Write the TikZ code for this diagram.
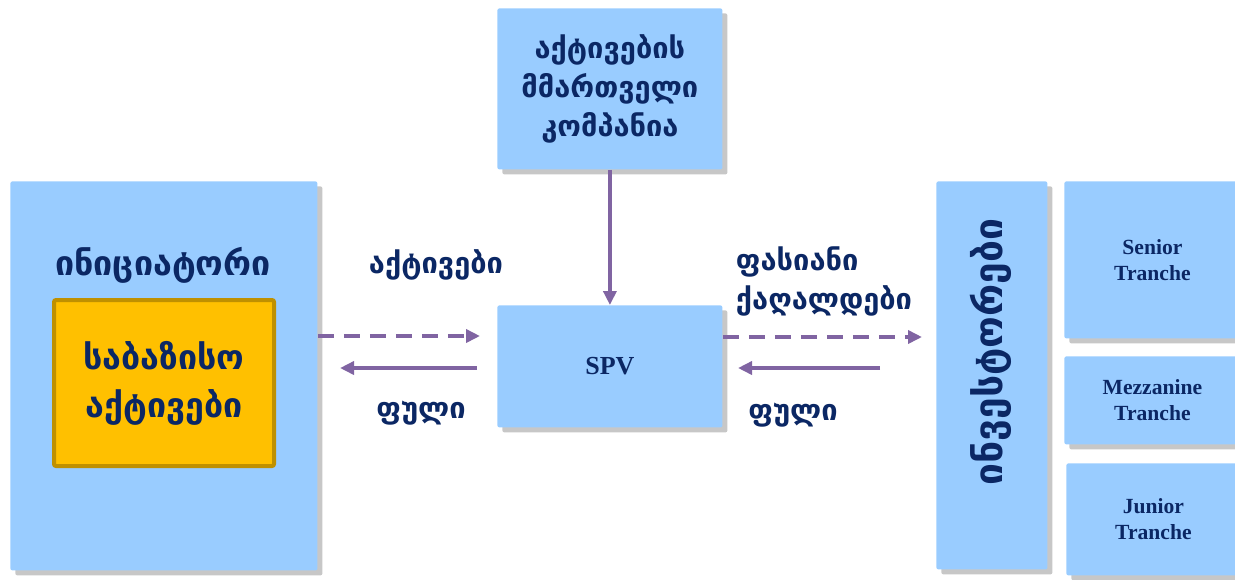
\documentclass[tikz,border=0pt]{standalone}
\usepackage{fontspec}
\setmainfont{Liberation Serif}
\newfontfamily\geo{DejaVu Sans}
\usetikzlibrary{arrows.meta,positioning,calc,shadows}

\definecolor{boxblue}{HTML}{99CCFF}
\definecolor{textnavy}{HTML}{0B2764}
\definecolor{flowpurple}{HTML}{8064A2}
\definecolor{basegold}{HTML}{FFC000}
\definecolor{baseedge}{HTML}{BF9000}

\begin{document}
\begin{tikzpicture}[x=0.5pt, y=-0.5pt,
            box/.style={fill=boxblue, rounded corners=1pt, inner sep=0pt, anchor=north west,
              drop shadow={shadow xshift=2.5pt, shadow yshift=-2.5pt, fill=black, opacity=0.22}},
            geotext/.style={text=textnavy, align=center, font=\geo\bfseries\fontsize{14.5}{19.5}\selectfont},
            trtext/.style={text=textnavy, align=center, font=\bfseries\fontsize{10.8}{13}\selectfont},
            flow/.style={draw=flowpurple, line width=1.8pt, -{Triangle[length=7pt,width=6.5pt]}},
            flowdash/.style={flow, dash pattern=on 8pt off 5pt}]
        \useasboundingbox (0,0) rectangle (1235,579);

        \node[box, minimum width=153.5pt, minimum height=194.5pt] (init) at (10,181) {};
        \node[geotext, font=\geo\bfseries\fontsize{17}{18}\selectfont] (inittitle) at (163,265) {ინიციატორი};
        \node[draw=baseedge, line width=2pt, fill=basegold, rounded corners=1pt, anchor=north west,
              minimum width=110pt, minimum height=83pt, geotext,
              font=\geo\bfseries\fontsize{17}{24}\selectfont] (base) at (52,298) {საბაზისო\\აქტივები};

        \node[box, geotext, minimum width=112.5pt, minimum height=80.5pt] (mgr) at (497,8)
              {აქტივების\\მმართველი\\კომპანია};
        \node[box, trtext, font=\bfseries\fontsize{13}{15}\selectfont,
              minimum width=112.5pt, minimum height=61pt] (spv) at (497,305) {SPV};

        \node[box, minimum width=55.5pt, minimum height=194pt] (inv) at (936,181) {};
        \node[geotext, rotate=90, font=\geo\bfseries\fontsize{19.5}{20}\selectfont] (invtitle) at (991,352) {ინვესტორები};

        \node[box, trtext, minimum width=88pt, minimum height=78.5pt] (senior) at (1064,181) {Senior\\Tranche};
        \node[box, trtext, minimum width=88pt, minimum height=44pt] (mezz) at (1064,356) {Mezzanine\\Tranche};
        \node[box, trtext, minimum width=87pt, minimum height=56pt] (junior) at (1066,463) {Junior\\Tranche};

        \node[geotext] (assetslbl) at (436,265) {აქტივები};
        \node[geotext] (cashlbl) at (421,413) {ფული};
        \node[geotext, align=left] (seclbl) at (824,281) {ფასიანი\\ქაღალდები};
        \node[geotext] (cashlbl2) at (793,415) {ფული};

        \coordinate (assetsend) at (480,336);
        \coordinate (cashstart) at (477,368);
        \coordinate (cashend) at (340,368);
        \coordinate (secend) at (922,337);
        \coordinate (paystart) at (880,368);
        \coordinate (payend) at (738,368);

        \draw[flow] (mgr.south) -- (spv.north);
        \draw[flowdash] (init.east |- assetsend) -- (assetsend);
        \draw[flow] (cashstart) -- (cashend);
        \draw[flowdash] (spv.east |- secend) -- (secend);
        \draw[flow] (paystart) -- (payend);
\end{tikzpicture}
\end{document}
